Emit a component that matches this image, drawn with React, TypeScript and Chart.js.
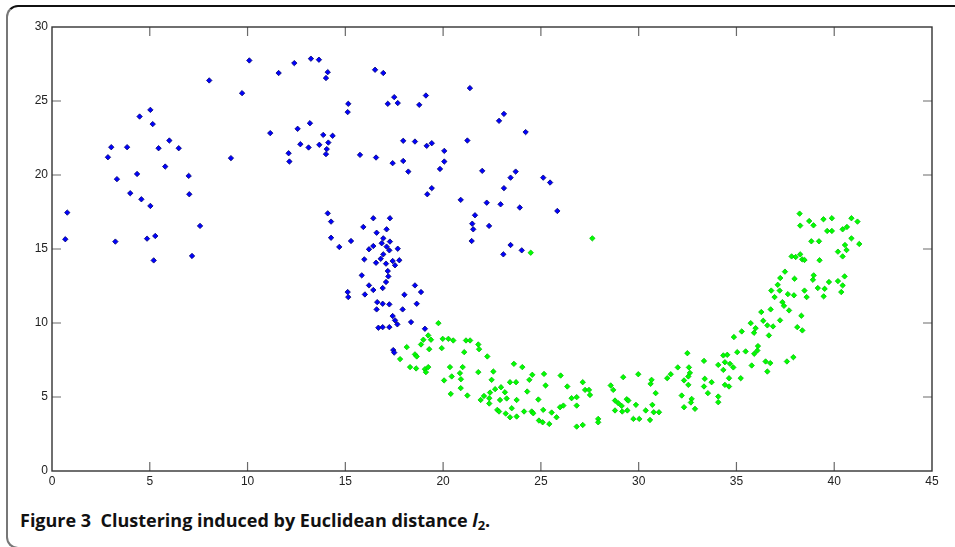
import React, { useEffect, useRef } from "react";
import { Chart, registerables } from "chart.js";

Chart.register(...registerables);

// Cluster 1 (blue) points [x, y]
const blueCluster: number[][] = [
  [0.78, 17.46], [0.68, 15.66], [2.86, 21.2], [3.03, 21.88], [3.84, 21.88], [3.32, 19.72], [4.35, 20.07],
  [4.0, 18.77], [4.57, 18.36], [5.03, 17.91], [3.24, 15.5], [4.86, 15.7], [5.28, 15.88], [5.2, 14.23],
  [7.57, 16.56], [7.16, 14.53], [5.03, 24.4], [4.48, 23.95], [5.15, 23.44], [6.0, 22.33], [5.45, 21.81],
  [6.48, 21.81], [5.79, 20.57], [6.99, 19.94], [7.02, 18.7], [8.04, 26.39], [9.15, 21.14], [9.72, 25.53],
  [10.09, 27.74],
  [11.16, 22.83], [11.59, 26.89], [12.39, 27.56], [13.24, 27.86], [13.65, 27.79], [12.1, 21.47], [12.14, 20.91],
  [12.56, 23.12], [12.7, 22.08], [13.12, 21.86], [13.19, 23.5], [13.67, 22.04], [13.87, 22.71], [14.35, 22.65],
  [14.13, 22.19], [14.05, 21.75], [14.01, 21.41], [14.1, 26.95], [14.01, 26.55], [15.15, 24.81], [15.12, 24.25],
  [15.75, 21.36], [16.52, 27.11], [16.94, 26.89], [16.57, 21.18], [17.5, 25.26], [17.17, 24.81], [17.68, 24.86],
  [18.78, 24.74], [19.12, 25.37], [17.42, 20.8], [17.96, 22.31], [18.56, 22.26], [19.16, 21.97], [19.42, 22.15],
  [17.96, 20.95], [18.22, 20.23], [20.06, 21.63], [20.06, 20.91], [19.84, 20.41], [21.24, 22.33], [21.37, 25.87],
  [23.11, 24.13], [22.86, 23.66], [24.22, 22.9], [19.42, 19.11], [19.19, 18.7], [22.0, 20.28], [23.71, 20.23],
  [23.45, 19.82], [25.12, 19.82], [25.47, 19.49], [23.11, 19.11], [20.9, 18.32], [22.23, 18.13], [22.94, 18.02],
  [23.92, 17.8], [25.84, 17.57], [21.63, 17.28], [21.49, 16.71], [21.54, 16.33], [22.35, 16.56], [21.46, 15.54],
  [23.45, 15.27], [24.02, 14.91], [23.08, 14.64],
  [14.1, 17.41], [14.27, 16.85], [14.27, 15.76], [14.69, 15.14], [15.29, 15.54], [16.43, 17.08], [17.28, 17.08],
  [15.92, 16.49], [17.11, 16.33], [16.6, 16.1], [16.94, 15.72], [16.86, 15.39], [17.28, 15.5], [17.11, 15.16],
  [17.25, 14.91], [16.43, 15.2], [16.21, 14.98], [17.68, 15.02], [16.94, 14.64], [16.81, 14.34], [15.97, 14.3],
  [16.57, 14.07], [17.08, 14.01], [17.42, 14.19], [17.76, 14.24], [17.54, 13.9], [17.17, 13.51], [17.2, 13.15],
  [15.84, 13.22], [17.08, 12.77], [16.21, 12.54], [16.91, 12.36], [16.43, 12.23], [18.56, 12.54], [18.87, 12.09],
  [18.02, 11.91], [15.12, 12.09], [15.15, 11.75], [16.0, 11.93], [16.63, 11.41], [16.91, 11.3], [17.25, 11.26],
  [18.65, 11.3], [16.6, 10.92], [17.93, 10.92], [17.42, 10.47], [17.54, 10.18], [17.66, 9.91], [18.36, 10.06],
  [16.69, 9.68], [16.91, 9.72], [17.25, 9.72], [19.07, 9.61], [17.45, 8.17], [17.5, 8.0],
];

// Cluster 2 (green) points [x, y]
const greenCluster: number[][] = [
  [24.48, 14.75], [27.63, 15.72],
  [19.76, 9.99], [19.24, 9.16], [18.99, 8.87], [19.38, 8.87], [18.87, 8.55], [18.14, 8.37], [19.98, 8.93],
  [20.27, 8.93], [20.52, 8.82], [21.17, 8.82], [21.38, 8.82], [21.8, 8.55], [21.84, 8.23], [19.29, 8.23],
  [19.93, 8.3], [21.08, 8.03], [18.56, 7.88], [18.65, 7.74], [17.8, 7.56], [22.26, 7.74], [18.31, 7.02],
  [18.62, 6.93], [19.07, 6.88], [19.24, 7.02], [19.12, 6.68], [20.35, 7.02], [21.0, 7.02], [20.86, 6.61],
  [20.44, 6.39], [20.91, 6.2], [20.05, 6.12], [21.8, 6.68], [22.57, 6.72], [23.62, 7.24], [24.05, 7.02],
  [22.48, 6.16], [20.9, 5.6], [20.39, 5.21], [21.24, 5.1], [21.92, 4.8], [22.09, 5.07], [22.4, 5.3],
  [22.36, 4.92], [22.36, 4.56], [22.66, 5.53], [22.96, 5.66], [23.16, 5.32], [22.91, 4.8], [23.25, 4.9],
  [23.42, 6.0], [23.73, 6.0], [23.76, 4.8], [23.51, 4.24], [22.77, 4.13], [22.86, 4.02], [23.2, 3.88],
  [23.42, 3.63], [23.76, 3.68], [24.3, 5.37], [24.41, 6.16], [24.56, 6.5], [25.16, 6.56], [25.24, 5.78],
  [24.87, 4.83], [24.14, 4.02], [24.53, 4.02], [24.61, 3.9], [25.12, 4.13], [25.55, 3.95], [24.9, 3.41],
  [25.09, 3.29], [25.43, 3.18], [25.8, 3.63], [26.01, 6.45], [26.35, 5.71], [26.57, 4.92], [26.83, 4.99],
  [25.98, 4.31], [26.15, 4.42], [26.83, 4.42], [26.83, 3.0], [27.14, 3.11], [27.14, 6.0], [27.26, 5.48],
  [27.46, 5.48], [27.51, 5.14], [27.93, 3.52], [27.93, 3.29], [28.57, 5.78], [28.7, 5.48], [28.79, 4.76],
  [28.96, 4.58], [28.79, 4.09],
  [29.13, 4.4], [29.16, 4.02], [29.42, 4.09], [29.39, 4.85], [29.47, 4.76], [29.86, 4.47], [29.21, 6.34],
  [29.98, 6.54], [29.73, 3.52], [30.03, 3.52], [30.58, 3.45], [30.36, 4.09], [30.77, 3.97], [31.04, 3.97],
  [30.7, 4.47], [30.87, 5.26], [30.61, 5.89], [30.66, 6.16], [31.46, 6.27], [31.64, 6.54], [32.0, 7.0],
  [32.49, 7.96], [32.57, 7.0], [32.62, 6.63], [32.54, 6.39], [32.32, 6.12], [32.54, 5.82], [32.2, 5.1],
  [32.71, 4.87], [32.67, 4.63], [32.32, 4.31], [32.88, 4.2], [33.34, 7.44], [33.38, 6.23], [33.34, 5.71],
  [33.73, 6.0], [33.54, 5.26], [34.07, 5.03], [34.07, 4.65], [34.07, 7.17], [34.33, 7.81], [34.53, 7.85],
  [34.41, 7.35], [34.67, 7.24], [34.84, 7.0], [34.33, 6.83], [34.62, 6.27], [34.41, 5.82], [34.62, 5.71],
  [35.22, 6.27], [35.04, 8.03], [35.47, 8.08], [35.78, 7.13], [35.91, 7.92], [36.07, 8.14], [36.1, 8.44],
  [34.87, 9.05], [35.27, 9.43], [35.73, 9.99], [35.9, 9.34], [35.98, 9.65], [36.37, 10.15], [36.58, 9.84],
  [36.87, 9.77], [36.66, 9.16], [37.23, 10.18], [36.49, 7.4], [36.73, 7.29], [36.58, 6.72], [37.58, 7.4],
  [37.91, 7.69], [38.11, 9.72], [38.37, 9.5],
  [38.23, 17.39], [38.26, 16.58], [38.72, 16.89], [38.94, 16.6], [39.45, 17.01], [39.88, 17.08], [40.88, 17.08],
  [41.19, 16.85], [39.64, 16.22], [39.88, 16.22], [40.43, 16.33], [40.65, 16.49], [40.88, 15.72], [41.28, 15.34],
  [40.55, 15.27], [40.63, 14.93], [40.19, 14.82], [40.43, 14.5], [38.83, 15.52], [39.22, 15.52], [37.82, 14.5],
  [38.03, 14.46], [38.26, 14.64], [38.36, 14.3], [38.48, 14.26], [39.25, 14.24], [37.48, 13.47], [37.97, 12.99],
  [38.95, 13.22], [38.91, 12.92], [39.73, 12.77], [40.19, 12.83], [40.53, 13.15], [40.43, 12.54], [40.36, 12.09],
  [39.16, 12.36], [39.51, 12.31], [39.46, 11.8], [38.48, 12.19], [38.59, 11.75], [37.24, 13.04], [37.11, 12.58],
  [36.78, 12.19], [37.21, 12.19], [36.95, 11.75], [37.63, 11.95], [37.94, 11.87], [37.35, 11.41], [37.43, 11.16],
  [37.69, 10.85], [38.32, 10.49], [36.75, 10.92], [36.27, 10.74],
];

const xTicks = [0, 5, 10, 15, 20, 25, 30, 35, 40, 45];
const yTicks = [0, 5, 10, 15, 20, 25, 30];

const frameTicks = {
  id: "frameTicks",
  afterDraw(chart: any) {
    const { ctx, chartArea: a, scales } = chart;
    const L = 9;
    ctx.save();
    ctx.strokeStyle = "#6a6a6a";
    ctx.lineWidth = 1.2;
    ctx.beginPath();
    scales.x.ticks.forEach((t: any) => {
      const px = scales.x.getPixelForValue(t.value);
      if (Math.abs(px - a.left) < 1 || Math.abs(px - a.right) < 1) return;
      ctx.moveTo(px, a.bottom);
      ctx.lineTo(px, a.bottom - L);
      ctx.moveTo(px, a.top);
      ctx.lineTo(px, a.top + L);
    });
    scales.y.ticks.forEach((t: any) => {
      const py = scales.y.getPixelForValue(t.value);
      if (Math.abs(py - a.top) < 1 || Math.abs(py - a.bottom) < 1) return;
      ctx.moveTo(a.left, py);
      ctx.lineTo(a.left + L, py);
      ctx.moveTo(a.right, py);
      ctx.lineTo(a.right - L, py);
    });
    ctx.stroke();
    ctx.strokeStyle = "#333333";
    ctx.lineWidth = 1.4;
    ctx.strokeRect(a.left, a.top, a.right - a.left, a.bottom - a.top);
    ctx.restore();
  },
};

export default function App() {
  const ref = useRef<HTMLCanvasElement | null>(null);

  useEffect(() => {
    if (!ref.current) return;
    const tickFont = { family: "'Liberation Sans', Arial, sans-serif", size: 12 };
    const chart = new Chart(ref.current, {
      type: "scatter",
      data: {
        datasets: [
          {
            data: blueCluster.map(([x, y]) => ({ x, y })),
            pointStyle: "rectRot",
            pointRadius: 2.7,
            backgroundColor: "#0000ff",
            borderColor: "#000070",
            borderWidth: 0.8,
          },
          {
            data: greenCluster.map(([x, y]) => ({ x, y })),
            pointStyle: "rectRot",
            pointRadius: 2.7,
            backgroundColor: "#00ff00",
            borderColor: "#00c000",
            borderWidth: 0.8,
          },
        ],
      },
      options: {
        animation: false,
        responsive: false,
        maintainAspectRatio: false,
        layout: { padding: { left: 0, right: 23, top: 27, bottom: 0 } },
        plugins: { legend: { display: false }, tooltip: { enabled: false } },
        scales: {
          x: {
            type: "linear",
            min: 0,
            max: 45,
            afterBuildTicks: (s: any) => {
              s.ticks = xTicks.map((v) => ({ value: v }));
            },
            afterFit: (s: any) => {
              s.height = 29;
            },
            grid: { display: false, drawTicks: false },
            border: { display: false },
            ticks: { color: "#222", font: tickFont, padding: 3, maxRotation: 0, autoSkip: false },
          },
          y: {
            type: "linear",
            min: 0,
            max: 30,
            afterBuildTicks: (s: any) => {
              s.ticks = yTicks.map((v) => ({ value: v }));
            },
            afterFit: (s: any) => {
              s.width = 52;
            },
            grid: { display: false, drawTicks: false },
            border: { display: false },
            ticks: { color: "#222", font: tickFont, padding: 4, autoSkip: false },
          },
        },
      },
      plugins: [frameTicks],
    });
    return () => chart.destroy();
  }, []);

  return (
    <div
      style={{
        position: "fixed",
        left: 0,
        top: 0,
        width: 955,
        height: 547,
        background: "#fff",
        overflow: "hidden",
      }}
    >
      <div
        style={{
          position: "absolute",
          left: 6,
          top: 5,
          width: 1000,
          height: 540,
          borderTop: "2px solid #111",
          borderLeft: "2px solid #777",
          borderBottom: "2px solid #777",
          borderTopLeftRadius: 12,
          borderBottomLeftRadius: 12,
        }}
      />
      <canvas ref={ref} width={955} height={500} style={{ position: "absolute", left: 0, top: 0 }} />
      <div
        style={{
          position: "absolute",
          left: 20,
          top: 510,
          font: "bold 18px 'Open Sans', 'Noto Sans', sans-serif",
          lineHeight: "20px",
          color: "#111",
          whiteSpace: "nowrap",
        }}
      >
        Figure 3&nbsp;&nbsp;Clustering induced by Euclidean distance <i>l</i>
        <sub style={{ fontSize: 13, verticalAlign: "-3px", lineHeight: 0 }}>2</sub>.
      </div>
    </div>
  );
}
